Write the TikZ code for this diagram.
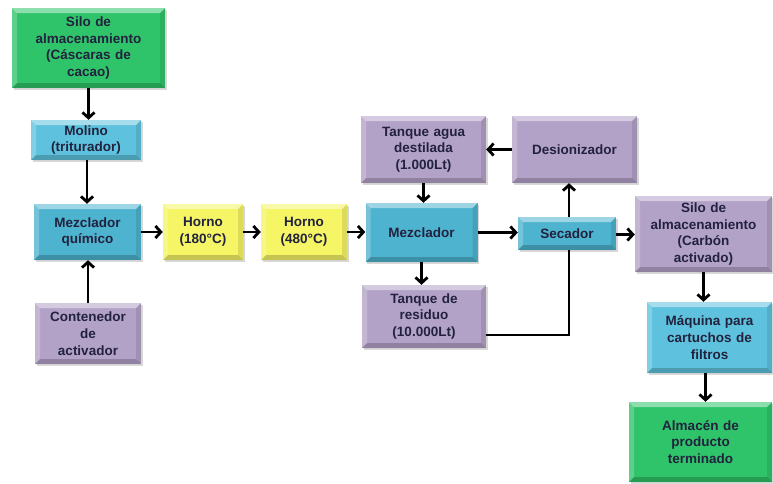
\documentclass[tikz,border=0pt]{standalone}
\usepackage{fontspec}
\setmainfont{Liberation Sans}
\usetikzlibrary{arrows.meta,shadows}

\definecolor{boxgreen}{HTML}{2FC46A}
\definecolor{boxblue}{HTML}{4DB3CF}
\definecolor{boxlblue}{HTML}{5EC2DE}
\definecolor{boxlav}{HTML}{B3A2C7}
\definecolor{boxyellow}{HTML}{F5F565}
\definecolor{txt}{HTML}{22223E}

\tikzset{
  bev/.store in=\bevw, bev=5pt,
  stage/.style={
    draw=none, fill=#1, inner sep=0pt, align=center,
    font=\bfseries\fontsize{13.5}{16.7}\selectfont, text=txt,
    drop shadow={shadow xshift=1.5pt, shadow yshift=-2pt, opacity=.3},
    path picture={
      \fill[white,opacity=.45]
        (path picture bounding box.north west) -- (path picture bounding box.north east)
        -- ([shift={(-\bevw,-\bevw)}]path picture bounding box.north east)
        -- ([shift={(\bevw,-\bevw)}]path picture bounding box.north west) -- cycle;
      \fill[white,opacity=.22]
        (path picture bounding box.north west)
        -- ([shift={(\bevw,-\bevw)}]path picture bounding box.north west)
        -- ([shift={(\bevw,\bevw)}]path picture bounding box.south west)
        -- (path picture bounding box.south west) -- cycle;
      \fill[black,opacity=.2]
        (path picture bounding box.south west) -- (path picture bounding box.south east)
        -- ([shift={(-\bevw,\bevw)}]path picture bounding box.south east)
        -- ([shift={(\bevw,\bevw)}]path picture bounding box.south west) -- cycle;
      \fill[black,opacity=.1]
        (path picture bounding box.north east)
        -- ([shift={(-\bevw,-\bevw)}]path picture bounding box.north east)
        -- ([shift={(-\bevw,\bevw)}]path picture bounding box.south east)
        -- (path picture bounding box.south east) -- cycle;
    }},
  sz/.style args={#1x#2}{minimum width=#1pt, minimum height=#2pt, text width=#1pt-8pt},
  flow/.style={line width=2.8pt, -{Straight Barb[length=5.5pt,width=12pt]}},
  plain/.style={line width=2.8pt},
}

\begin{document}
\begin{tikzpicture}[x=1pt,y=-1pt]
\useasboundingbox[fill=white] (0,0) rectangle (773,483);

% left column
\node[stage=boxgreen, sz=153x80] (silo1) at (88.5,48) {Silo de\\almacenamiento\\(Cáscaras de\\cacao)};
\node[stage=boxlblue, sz=110x40] (molino) at (86,140) {Molino\\(triturador)};
\node[stage=boxblue, sz=107x56] (mezq) at (87.5,232) {Mezclador\\químico};
\node[stage=boxlav, sz=106x61] (cont) at (88,333.5) {Contenedor\\de\\activador};

% ovens
\node[stage=boxyellow, sz=80x56] (horno1) at (203,232) {Horno\\(180°C)};
\node[stage=boxyellow, sz=86x56] (horno2) at (304,232) {Horno\\(480°C)};

% mixing and drying
\node[stage=boxblue, sz=112x59] (mezc) at (421.5,232.5) {Mezclador};
\node[stage=boxlav, sz=125x67] (agua) at (423.5,149.5) {Tanque agua\\destilada\\(1.000Lt)};
\node[stage=boxlav, sz=125x67] (desion) at (574.5,149.5) {Desionizador};
\node[stage=boxblue, sz=98x33] (secador) at (567,233.5) {Secador};
\node[stage=boxlav, sz=124x63] (residuo) at (424,316.5) {Tanque de\\residuo\\(10.000Lt)};

% right column
\node[stage=boxlav, sz=137x76] (silo2) at (703.5,234) {Silo de\\almacenamiento\\(Carbón\\activado)};
\node[stage=boxlblue, sz=125x71] (maquina) at (709.5,337.5) {Máquina para\\cartuchos de\\filtros};
\node[stage=boxgreen, sz=143x80] (almacen) at (700.5,442) {Almacén de\\producto\\terminado};

% connectors
\draw[flow] (silo1.south) -- (silo1.south |- molino.north);
\draw[flow] ([xshift=1pt]molino.south) -- ([xshift=1pt]molino.south |- mezq.north);
\draw[flow] (cont.north) -- (cont.north |- mezq.south);
\draw[flow] (mezq.east) -- (horno1.west);
\draw[flow] (horno1.east) -- (horno2.west);
\draw[flow] (horno2.east) -- (horno2.east -| mezc.west);
\draw[flow] (mezc.east) -- (mezc.east -| secador.west);
\draw[flow] ([yshift=-1pt]secador.east) -- ([yshift=-1pt]secador.east -| silo2.west);
\draw[flow] (agua.south) -- (agua.south |- mezc.north);
\draw[flow] (mezc.south) -- (mezc.south |- residuo.north);
\draw[flow] ([xshift=2pt]secador.north) -- ([xshift=2pt]secador.north |- desion.south);
\draw[flow] (desion.west) -- (agua.east);
\draw[plain] ([yshift=-18.5pt]residuo.east) -| ([xshift=2pt]secador.south);
\draw[flow] (silo2.south) -- (silo2.south |- maquina.north);
\draw[flow] ([xshift=-4pt]maquina.south) -- ([xshift=-4pt]maquina.south |- almacen.north);
\end{tikzpicture}
\end{document}
